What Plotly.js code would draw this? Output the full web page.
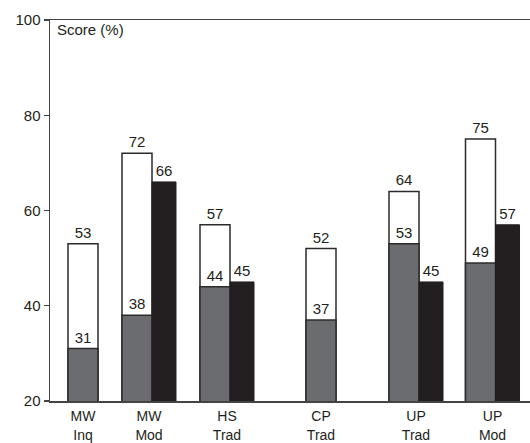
<!DOCTYPE html>
<html>
<head>
<meta charset="utf-8">
<script src="https://cdn.plot.ly/plotly-3.0.1.min.js"></script>
<style>html,body{margin:0;padding:0;background:#fff}#chart{width:530px;height:443px}</style>
</head>
<body>
<div id="chart"></div>
<script>
// Data
const categories = ['MW<br>Inq', 'MW<br>Mod', 'HS<br>Trad', 'CP<br>Trad', 'UP<br>Trad', 'UP<br>Mod'];
const whiteVals = [53, 72, 57, 52, 64, 75];
const grayVals  = [31, 38, 44, 37, 53, 49];
const blackVals = [null, 66, 45, null, 45, 57];

// Layout positions (x axis units = pixels of the plot area)
const groupPos = [83, 137, 215, 321, 404, 480.5];
const wideW = 30, narrowW = 24;
const blackPos = groupPos.map(p => p + wideW / 2 + narrowW / 2);
const tickPos = groupPos.map((p, i) => blackVals[i] === null ? p : p + narrowW / 2);

const font = {family: 'Liberation Sans, Arial, sans-serif', size: 15, color: '#231f20'};
const xfont = {family: 'Liberation Sans, Arial, sans-serif', size: 14, color: '#231f20'};
const edge = {color: '#2b2b2b', width: 1.5};

const traces = [
  {type: 'bar', x: groupPos, y: whiteVals, width: wideW,
   marker: {color: '#ffffff', line: edge},
   text: whiteVals.map(String), textposition: 'outside', cliponaxis: false,
   textfont: font, hoverinfo: 'skip'},
  {type: 'bar', x: groupPos, y: grayVals, width: wideW,
   marker: {color: '#6b6c6f', line: edge},
   text: grayVals.map(String), textposition: 'outside', cliponaxis: false,
   textfont: font, hoverinfo: 'skip'},
  {type: 'bar', x: blackPos, y: blackVals, width: narrowW,
   marker: {color: '#231f20', line: {color: '#231f20', width: 1}},
   text: blackVals.map(v => v === null ? '' : String(v)), textposition: 'outside', cliponaxis: false,
   textfont: font, hoverinfo: 'skip'}
];

const layout = {
  width: 530, height: 443,
  margin: {l: 50, r: 0, t: 20, b: 42},
  paper_bgcolor: '#fff', plot_bgcolor: '#fff',
  barmode: 'overlay', showlegend: false,
  font: font,
  xaxis: {range: [50, 530], tickvals: tickPos, ticktext: categories,
          showline: true, mirror: true, linecolor: '#444', linewidth: 1.5,
          showgrid: false, zeroline: false, ticks: '', tickfont: xfont,
          ticklabelstandoff: 2, fixedrange: true},
  yaxis: {range: [20, 100], tickvals: [20, 40, 60, 80, 100],
          showline: true, linecolor: '#444', linewidth: 1.5,
          ticks: 'outside', ticklen: 5, tickcolor: '#444', tickwidth: 1.2,
          showgrid: false, zeroline: false, tickfont: font, fixedrange: true},
  annotations: [{text: 'Score (%)', xref: 'paper', yref: 'paper', x: 0.01, y: 1.003,
                 xanchor: 'left', yanchor: 'top', showarrow: false, font: font}]
};

Plotly.newPlot('chart', traces, layout, {staticPlot: true, displayModeBar: false});
</script>
</body>
</html>
